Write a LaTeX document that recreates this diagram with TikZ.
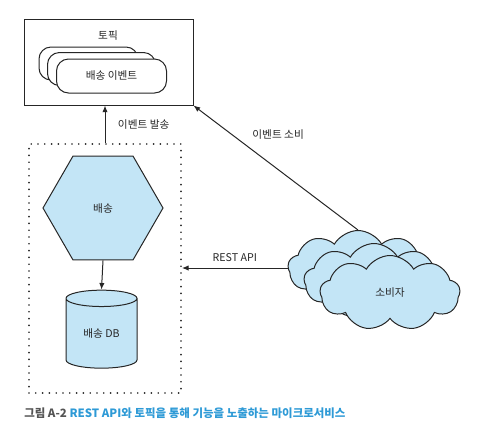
\documentclass[tikz,border=0pt]{standalone}
\usepackage{fontspec}
\setmainfont{Noto Sans CJK KR}
\usetikzlibrary{shapes.geometric,shapes.symbols,arrows.meta}
\newdimen\pxu
\pxu=0.75pt
\definecolor{svcblue}{HTML}{C3E5F6}
\definecolor{capblue}{HTML}{2E9AD6}
\definecolor{capgray}{HTML}{555555}
\begin{document}
\begin{tikzpicture}[x=0.75pt, y=-0.75pt,
    every node/.style={font=\fontsize{8}{10}\selectfont, text=black!85},
    line/.style={draw=black!85, line width=0.75pt},
    arr/.style={line, -{Latex[length=5pt,width=4pt]}},
    evbox/.style={line, fill=white, rounded corners=9pt, inner sep=0pt},
    puff/.style={line, fill=svcblue, cloud, cloud puffs=9, cloud puff arc=120, aspect=1.9,
      minimum width=140\pxu, minimum height=75\pxu, inner sep=0pt}]
  \useasboundingbox (0,0) rectangle (479,444);

  % Topic
  \node[line, minimum width=169\pxu, minimum height=86\pxu, inner sep=0pt] (topic) at (108.5,62) {};
  \node (topiclbl) at (108,35) {토픽};
  \node[evbox, minimum width=99\pxu, minimum height=33\pxu] (ev1) at (88.5,63.5) {};
  \node[evbox, minimum width=108\pxu, minimum height=33\pxu] (ev2) at (101.5,69) {};
  \node[evbox, minimum width=110\pxu, minimum height=34\pxu] (ev3) at (111.5,76) {배송 이벤트};

  % Service
  \node[draw=black!85, line width=1.4pt, dash pattern=on 0pt off 6.8\pxu, line cap=round,
    minimum width=152\pxu, minimum height=249\pxu, inner sep=0pt] (svc) at (105,268.5) {};
  \node[line, fill=svcblue, regular polygon, regular polygon sides=6,
    minimum size=120\pxu, inner sep=0pt] (ship) at (103,208) {배송};
  \node[line, fill=svcblue, cylinder, shape border rotate=90, aspect=0.45,
    minimum width=71\pxu, minimum height=78\pxu, inner sep=0pt] (shipdb) at (101.5,333.5) {배송 DB};

  % Consumers
  \node[puff] (cback) at (358,268) {};
  \node[puff] (cmid) at (374,281) {};
  \node[puff] (cfront) at (390,293) {소비자};

  \draw[arr] (svc.north) -- (svc.north |- topic.south)
    node[midway, right=6pt] {이벤트 발송};
  \draw[arr] (ship.south) -- (shipdb.north);
  \draw[arr] (cback.west) -- (cback.west -| svc.east)
    node[midway, above=1pt] {REST API};
  \draw[arr] (cback.north) -- (topic.south east)
    node[pos=0.68, above right=1pt] {이벤트 소비};

  % Caption
  \node[anchor=west, inner sep=0pt, font=\fontsize{8.6}{10}\selectfont\bfseries] (caption) at (24,413)
    {\textcolor{capgray}{그림 A-2} \textcolor{capblue}{REST API와 토픽을 통해 기능을 노출하는 마이크로서비스}};
\end{tikzpicture}
\end{document}
